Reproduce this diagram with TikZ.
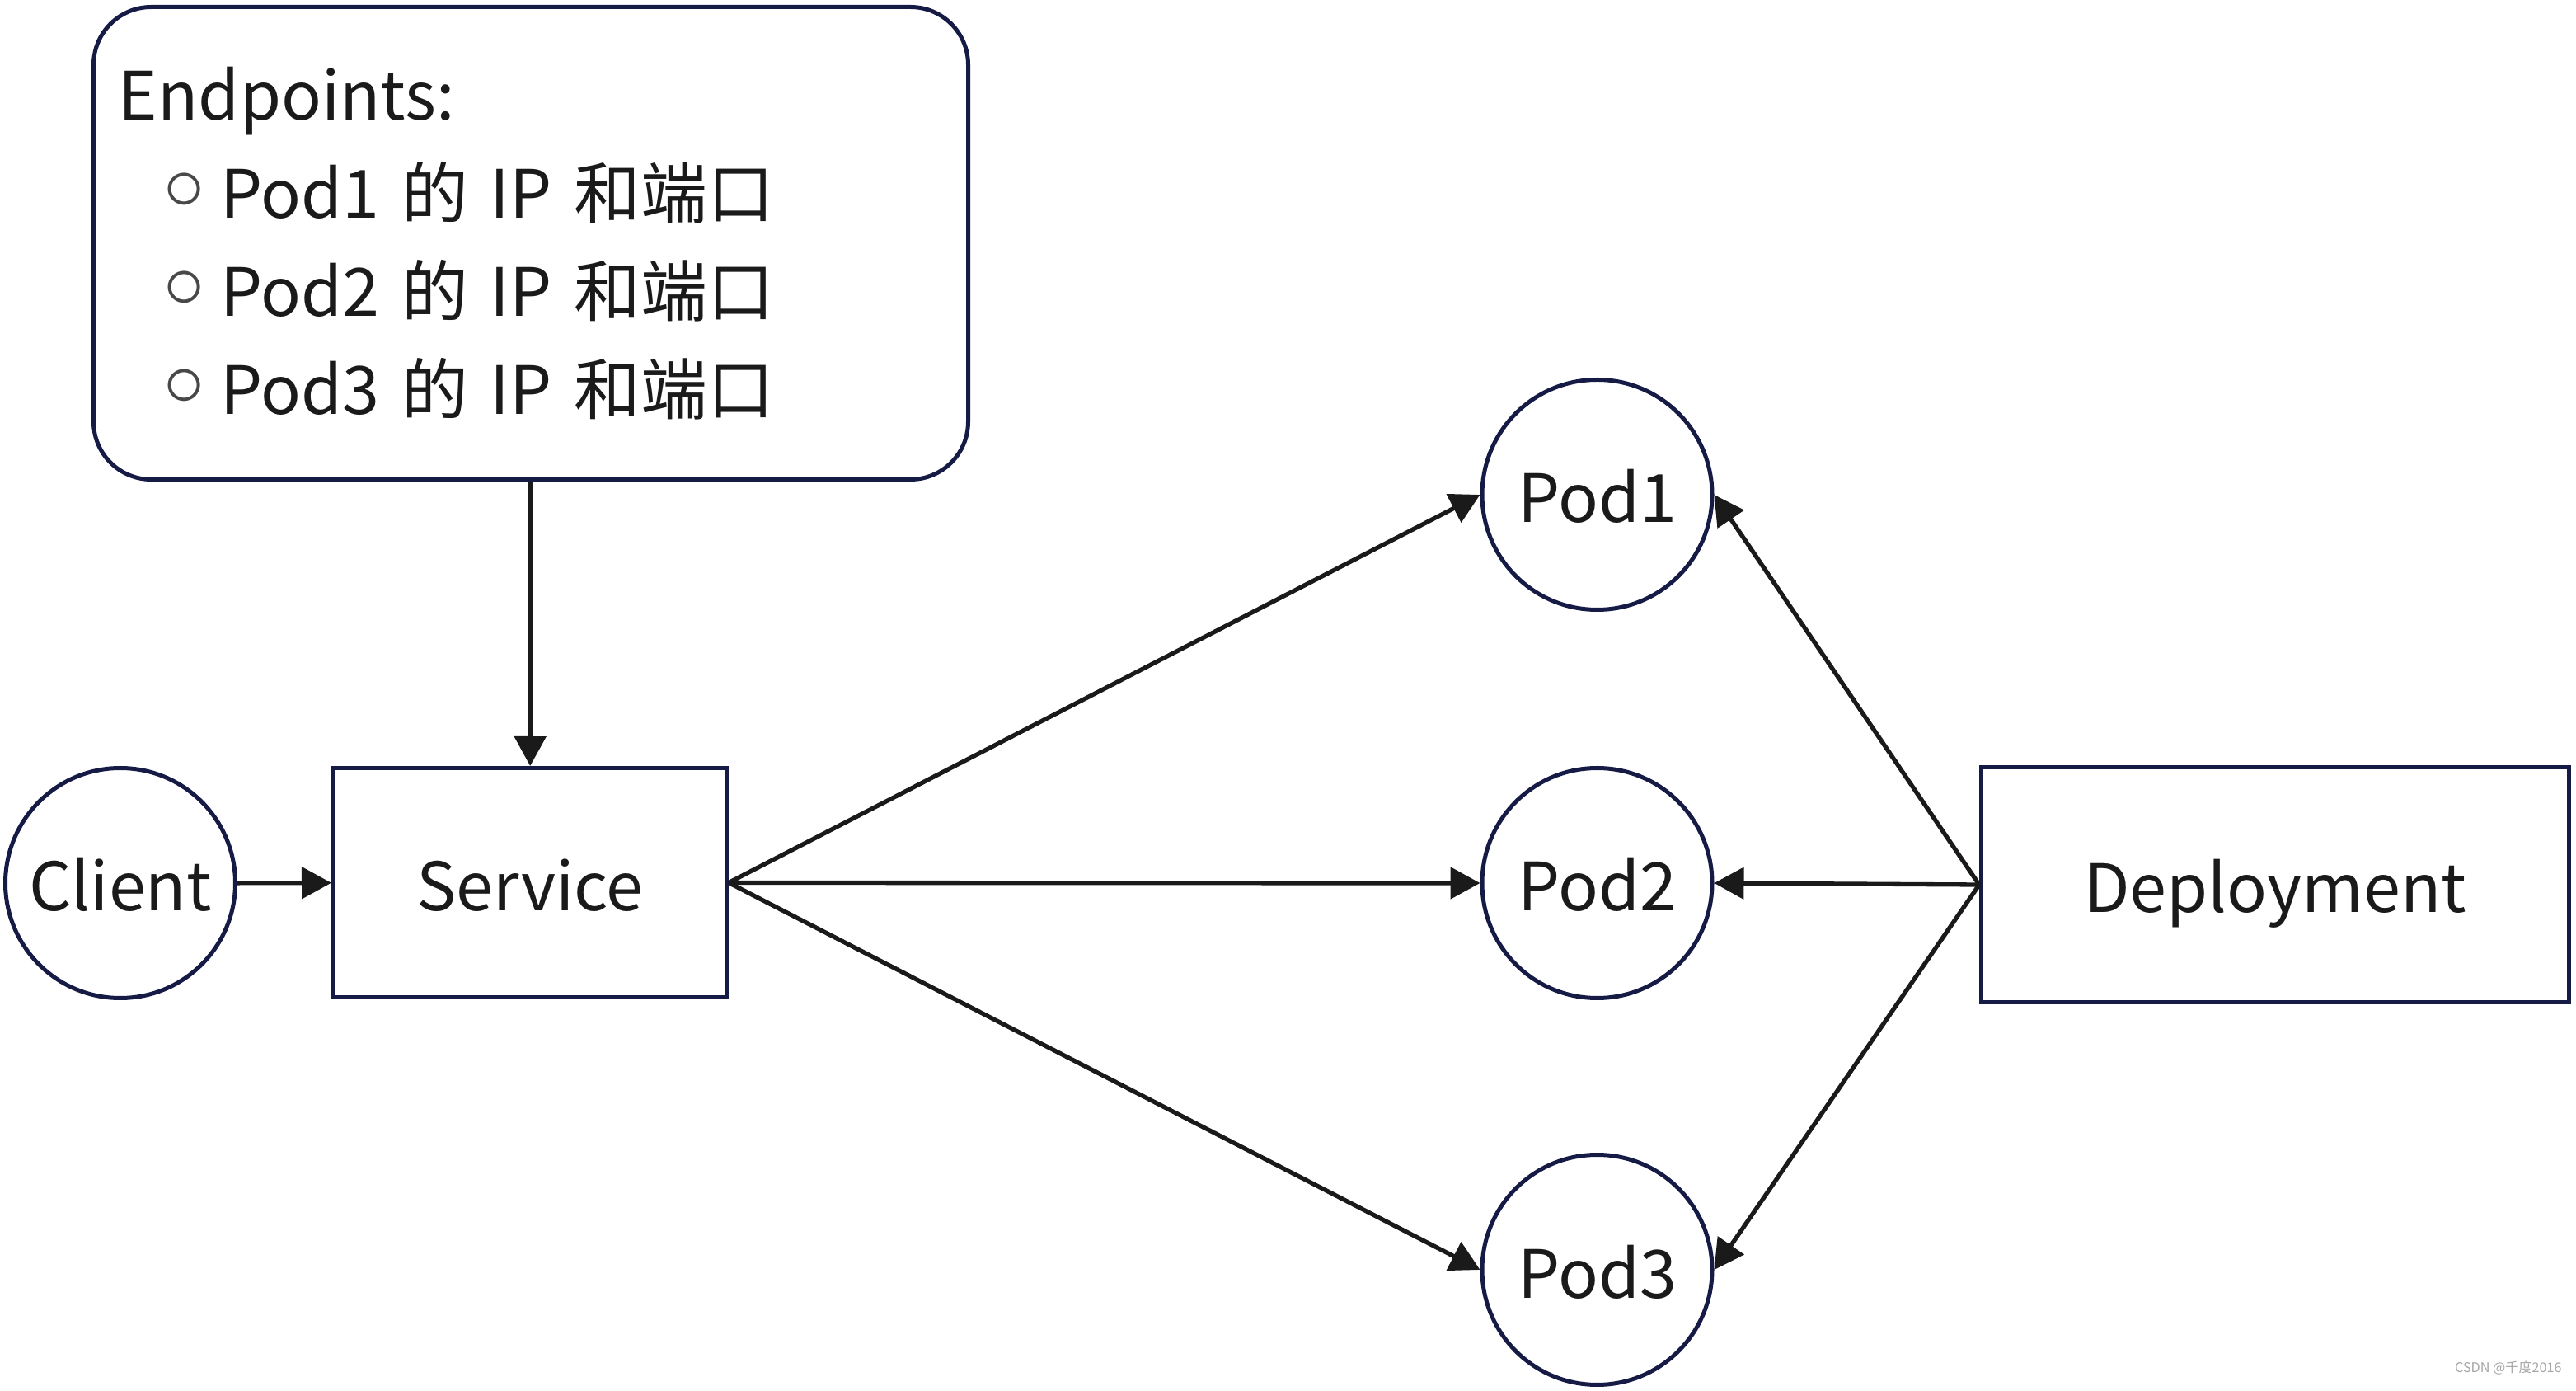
\documentclass[tikz,border=0pt]{standalone}
\usepackage{fontspec}
\setmainfont{Noto Sans CJK SC}
\usepackage{xcolor}
\usepackage{tikz}
\usetikzlibrary{arrows.meta, positioning}

\definecolor{navy}{HTML}{161B45}
\definecolor{ink}{HTML}{1A1A1A}
\newcommand{\epitem}{\hspace*{0.55cm}\raisebox{0.12em}{\scalebox{1.15}{\color{ink!80}$\circ$}}\hspace{0.18cm}}

\begin{document}
\begin{tikzpicture}[
    pod/.style={draw=navy, circle, line width=0.05cm, minimum size=2.79cm,
                inner sep=0pt, text=ink, text height=0.74cm, text depth=0.06cm,
                font=\fontsize{23}{28}\selectfont},
    box/.style={draw=navy, rectangle, line width=0.05cm, inner sep=0pt,
                text=ink, text height=0.74cm, text depth=0.06cm,
                font=\fontsize{23}{28}\selectfont},
    epbox/.style={draw=navy, rectangle, rounded corners=0.7cm, line width=0.05cm,
                  minimum width=10.61cm, minimum height=5.73cm, inner xsep=0.22cm,
                  text width=10cm, align=left, text=ink,
                  font=\fontsize{23}{33.9}\selectfont},
    arr/.style={-{Triangle[length=0.36cm, width=0.38cm]}, line width=0.053cm, draw=ink},
  ]
  \useasboundingbox (0,0) rectangle (31.25,-16.87);

  % Endpoints list above the service
  \node[epbox] (ep) at (6.44,-2.95)
    {Endpoints:\\
     \epitem Pod1 的 IP 和端口\\
     \epitem Pod2 的 IP 和端口\\
     \epitem Pod3 的 IP 和端口};

  % client and service
  \node[pod] (client)  at (1.46,-10.71)  {Client};
  \node[box, minimum width=4.77cm, minimum height=2.78cm]
                 (service) at (6.43,-10.705) {Service};

  % pods
  \node[pod] (pod1) at (19.375,-6.00)  {Pod1};
  \node[pod] (pod2) at (19.375,-10.71) {Pod2};
  \node[pod] (pod3) at (19.375,-15.40) {Pod3};

  % deployment
  \node[box, minimum width=7.13cm, minimum height=2.85cm]
                 (depl) at (27.60,-10.73) {Deployment};

  \draw[arr] (ep)      -- (service);
  \draw[arr] (client)  -- (service);
  \draw[arr] (service.east) -- (pod1.west);
  \draw[arr] (service.east) -- (pod2.west);
  \draw[arr] (service.east) -- (pod3.west);
  \draw[arr] (depl.west) -- (pod1.east);
  \draw[arr] (depl.west) -- (pod2.east);
  \draw[arr] (depl.west) -- (pod3.east);

  \node[text=gray!70, font=\fontsize{4.6}{5}\selectfont, anchor=south east]
    (wm) at (31.2,-16.8) {CSDN @千度2016};
\end{tikzpicture}
\end{document}
